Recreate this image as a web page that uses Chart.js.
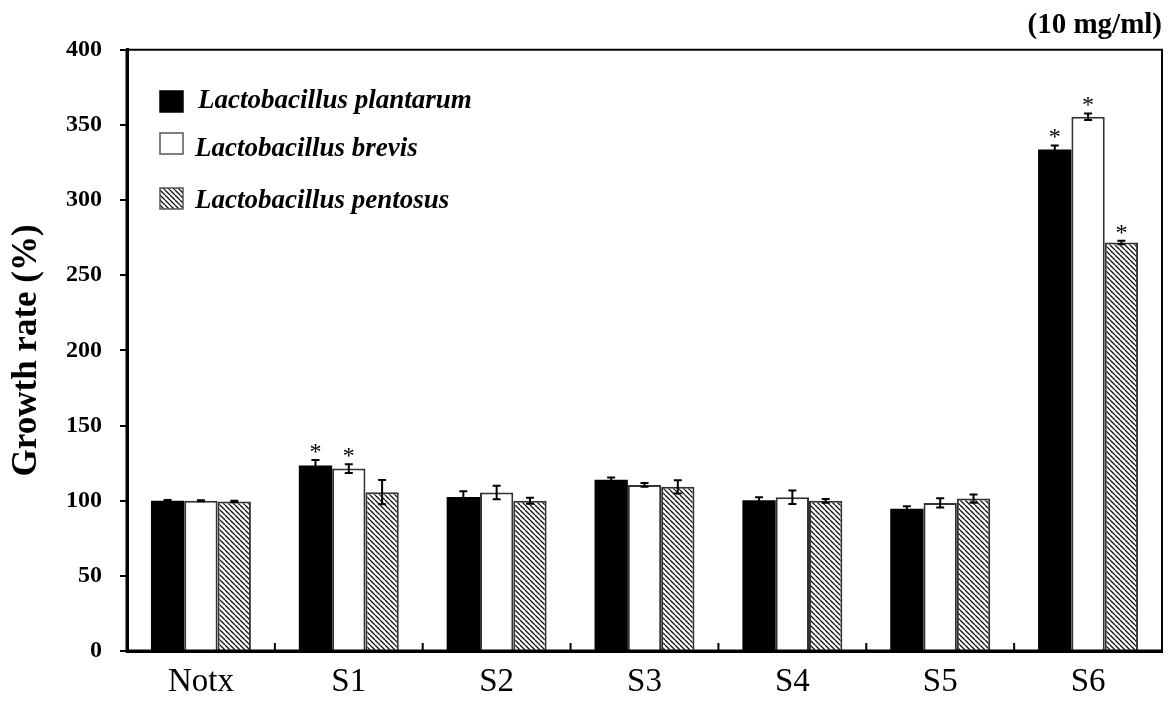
<!DOCTYPE html>
<html>
<head>
<meta charset="utf-8">
<script src="https://cdn.jsdelivr.net/npm/chart.js@4.4.0/dist/chart.umd.min.js"></script>
<style>
    html, body { margin: 0; padding: 0; background: #fff; }
    #wrap { width: 1172px; height: 703px; }
</style>
</head>
<body>
<div id="wrap"><canvas id="chart1"></canvas></div>
<script>
const labels = ['Notx', 'S1', 'S2', 'S3', 'S4', 'S5', 'S6'];

const plantarum = [100, 123.4, 102.5, 113.9, 100.3, 94.7, 333.6];
const plantarumErr = [0.5, 3.6, 3.8, 1.5, 2.0, 1.6, 2.8];
const plantarumStar = [false, true, false, false, false, false, true];

const brevis = [100, 121.4, 105.4, 110.5, 102.3, 98.5, 355.5];
const brevisErr = [0.3, 2.9, 4.5, 1.2, 4.5, 3.1, 2.2];
const brevisStar = [false, true, false, false, false, false, true];

const pentosus = [99.5, 105.7, 99.9, 109.2, 99.9, 101.4, 271.8];
const pentosusErr = [0.5, 8.0, 2.0, 4.4, 1.3, 2.7, 1.2];
const pentosusStar = [false, false, false, false, false, false, true];

const seriesNames = ['Lactobacillus plantarum', 'Lactobacillus brevis', 'Lactobacillus pentosus'];

const canvas = document.getElementById('chart1');
const mainCtx = canvas.getContext('2d');

// diagonal hatch, lines running top-left to bottom-right
function makeHatch() {
    const s = 5;
    const c = document.createElement('canvas');
    c.width = s;
    c.height = s;
    const g = c.getContext('2d');
    g.fillStyle = '#fff';
    g.fillRect(0, 0, s, s);
    g.strokeStyle = '#111';
    g.lineWidth = 1.3;
    g.beginPath();
    for (let k = -s; k <= s; k += s) {
        g.moveTo(k, 0);
        g.lineTo(k + s, s);
    }
    g.stroke();
    return mainCtx.createPattern(c, 'repeat');
}
const hatch = makeHatch();

const errorBars = {
    id: 'errorBars',
    afterDatasetsDraw(chart) {
        const ctx = chart.ctx;
        const y = chart.scales.y;
        chart.data.datasets.forEach((ds, i) => {
            const meta = chart.getDatasetMeta(i);
            meta.data.forEach((bar, j) => {
                const v = ds.data[j];
                const e = ds.errors[j];
                const top = y.getPixelForValue(v + e);
                const bot = y.getPixelForValue(v - e);
                ctx.save();
                ctx.strokeStyle = '#000';
                ctx.lineWidth = 2;
                ctx.beginPath();
                ctx.moveTo(bar.x, top);
                ctx.lineTo(bar.x, bot);
                ctx.moveTo(bar.x - 4, top);
                ctx.lineTo(bar.x + 4, top);
                ctx.moveTo(bar.x - 4, bot);
                ctx.lineTo(bar.x + 4, bot);
                ctx.stroke();
                if (ds.stars[j]) {
                    ctx.fillStyle = '#000';
                    ctx.font = '24px "Liberation Serif"';
                    ctx.textAlign = 'center';
                    ctx.textBaseline = 'alphabetic';
                    ctx.fillText('*', bar.x, top - 1);
                }
                ctx.restore();
            });
        });
    }
};

// box round the plot and the small category ticks on the x axis
const frame = {
    id: 'frame',
    afterDatasetsDraw(chart) {
        const ctx = chart.ctx;
        const a = chart.chartArea;
        const x = chart.scales.x;
        ctx.save();
        ctx.strokeStyle = '#000';
        ctx.lineWidth = 2;
        ctx.beginPath();
        ctx.moveTo(a.left, a.top);
        ctx.lineTo(a.right, a.top);
        ctx.lineTo(a.right, a.bottom);
        ctx.stroke();
        ctx.lineWidth = 3;
        ctx.beginPath();
        ctx.moveTo(a.left, a.top);
        ctx.lineTo(a.left, a.bottom);
        ctx.lineTo(a.right, a.bottom);
        ctx.stroke();
        ctx.lineWidth = 2;
        ctx.beginPath();
        for (let i = 0; i < labels.length - 1; i++) {
            const bx = (x.getPixelForValue(i) + x.getPixelForValue(i + 1)) / 2;
            ctx.moveTo(bx, a.bottom);
            ctx.lineTo(bx, a.bottom - 8);
        }
        ctx.stroke();
        ctx.restore();
    }
};

const legendBox = {
    id: 'legendBox',
    afterDraw(chart) {
        const ctx = chart.ctx;
        const fills = ['#000', '#fff', hatch];
        const boxY = [91, 133, 188];
        const textY = [108, 156, 208];
        ctx.save();
        for (let i = 0; i < 3; i++) {
            ctx.fillStyle = fills[i];
            ctx.fillRect(160, boxY[i], 23, 21);
            ctx.strokeStyle = i === 0 ? '#000' : '#555';
            ctx.lineWidth = 1.5;
            ctx.strokeRect(160, boxY[i], 23, 21);
            ctx.fillStyle = '#000';
            ctx.font = 'italic bold 27px "Liberation Serif"';
            ctx.textAlign = 'left';
            ctx.textBaseline = 'alphabetic';
            ctx.fillText(seriesNames[i], i === 0 ? 198 : 195, textY[i]);
        }
        ctx.restore();
    }
};

const chart1 = new Chart(canvas, {
    type: 'bar',
    data: {
        labels: labels,
        datasets: [
            {
                label: seriesNames[0],
                data: plantarum,
                errors: plantarumErr,
                stars: plantarumStar,
                backgroundColor: '#000',
                borderWidth: 0
            },
            {
                label: seriesNames[1],
                data: brevis,
                errors: brevisErr,
                stars: brevisStar,
                backgroundColor: '#fff',
                borderColor: '#333',
                borderWidth: 2
            },
            {
                label: seriesNames[2],
                data: pentosus,
                errors: pentosusErr,
                stars: pentosusStar,
                backgroundColor: hatch,
                borderColor: '#333',
                borderWidth: 2
            }
        ]
    },
    options: {
        responsive: true,
        maintainAspectRatio: false,
        animation: false,
        layout: {
            padding: { left: 0, right: 10, top: 0, bottom: 0 }
        },
        datasets: {
            bar: {
                categoryPercentage: 0.676,
                barPercentage: 1
            }
        },
        plugins: {
            legend: { display: false },
            tooltip: { enabled: false },
            title: {
                display: true,
                text: '(10 mg/ml)',
                align: 'end',
                color: '#000',
                font: { family: 'Liberation Serif', size: 29, weight: 'bold', lineHeight: 1.2 },
                padding: { top: 8, bottom: 7 }
            }
        },
        scales: {
            x: {
                afterFit: s => { s.height = 52; },
                grid: { display: false, drawTicks: false },
                border: { display: true, color: '#000', width: 3 },
                ticks: {
                    color: '#000',
                    padding: 12,
                    font: { family: 'Liberation Serif', size: 33 }
                }
            },
            y: {
                min: 0,
                max: 400,
                afterFit: s => { s.width = 127; },
                grid: { drawOnChartArea: false, tickLength: 7, color: '#000', lineWidth: 2 },
                border: { display: true, color: '#000', width: 3 },
                ticks: {
                    stepSize: 50,
                    color: '#000',
                    padding: 18,
                    font: { family: 'Liberation Serif', size: 24, weight: 'bold' }
                },
                title: {
                    display: true,
                    text: 'Growth rate (%)',
                    color: '#000',
                    font: { family: 'Liberation Serif', size: 35, weight: 'bold', lineHeight: 1.2 },
                    padding: { top: 6, bottom: 0 }
                }
            }
        }
    },
    plugins: [errorBars, frame, legendBox]
});
</script>
</body>
</html>
